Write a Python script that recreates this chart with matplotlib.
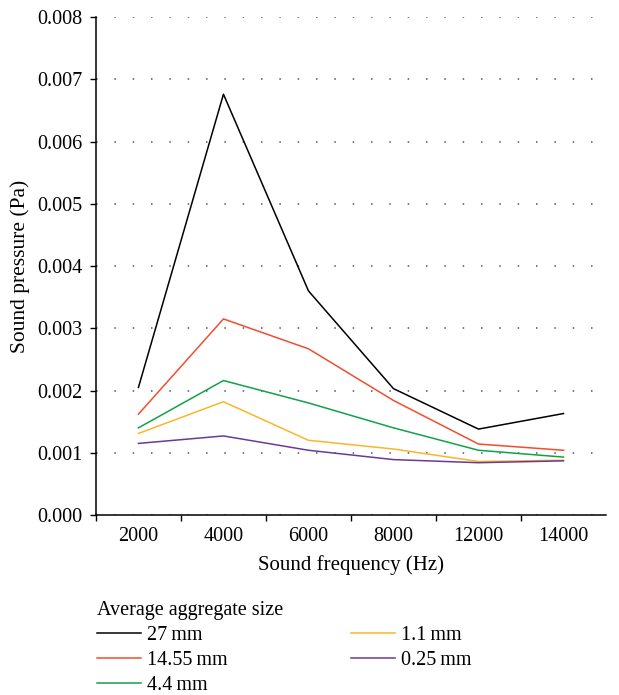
import matplotlib
matplotlib.use("Agg")
import matplotlib.pyplot as plt
from matplotlib.ticker import FixedLocator, MultipleLocator

plt.rcParams['font.family'] = ['Liberation Serif', 'DejaVu Serif']

freqs = ['2000', '4000', '6000', '8000', '12000', '14000']
sizes = ['27\u2009mm', '14.55\u2009mm', '4.4\u2009mm', '1.1\u2009mm', '0.25\u2009mm']
colours = ['#000000', '#f04e2e', '#12a14b', '#fdb52a', '#6a3a9a']

p_27 = [0.00205, 0.00676, 0.00360, 0.00203, 0.00138, 0.00163]
p_1455 = [0.00162, 0.00315, 0.00267, 0.00184, 0.00114, 0.00104]
p_44 = [0.00140, 0.00216, 0.00180, 0.00140, 0.00104, 0.00093]
p_11 = [0.00131, 0.00182, 0.00120, 0.00106, 0.00086, 0.00088]
p_025 = [0.00115, 0.00127, 0.00104, 0.00089, 0.00084, 0.00087]
series = [p_27, p_1455, p_44, p_11, p_025]

fig = plt.figure(figsize=(6.19, 6.95), dpi=100)
ax = fig.add_axes([0.155, 0.259, 0.824, 0.7165])

x = range(len(freqs))
for vals, lab, c in zip(series, sizes, colours):
    ax.plot(x, vals, color=c, lw=1.1, label=lab)

ax.set_xlim(-0.5, len(freqs) - 0.5)
ax.set_ylim(0, 0.008)
ax.yaxis.set_major_locator(MultipleLocator(0.001))
ax.yaxis.set_major_formatter(plt.FuncFormatter(lambda v, p: f"{v:.3f}"))
ax.set_xticks(list(x))
ax.set_xticklabels(freqs)
ax.xaxis.set_minor_locator(FixedLocator([i - 0.5 for i in range(len(freqs))]))
ax.tick_params(axis='x', which='major', length=0, pad=9, labelsize=14.5)
ax.tick_params(axis='x', which='minor', length=4, width=1, direction='out')
ax.tick_params(axis='y', length=4, width=1, direction='out', pad=6, labelsize=14.5)

ax.grid(axis='y', color='#555555', linestyle=(0, (1, 11)), lw=1.1)
ax.set_axisbelow(True)
for s in ['top', 'right']:
    ax.spines[s].set_visible(False)
for s in ['left', 'bottom']:
    ax.spines[s].set_linewidth(1.1)

ax.set_xlabel('Sound frequency (Hz)', fontsize=15, labelpad=6)
ax.set_ylabel('Sound pressure (Pa)', fontsize=15.5, labelpad=5)

fig.legend(loc='upper left', bbox_to_anchor=(0.14, 0.15), ncol=2,
           title='Average aggregate size', title_fontsize=14.5, fontsize=14.5,
           frameon=False, alignment='left', handlelength=2.2,
           handletextpad=0.3, columnspacing=6.1, labelspacing=0.3,
           borderpad=0)

fig.savefig('out.png', dpi=100)
